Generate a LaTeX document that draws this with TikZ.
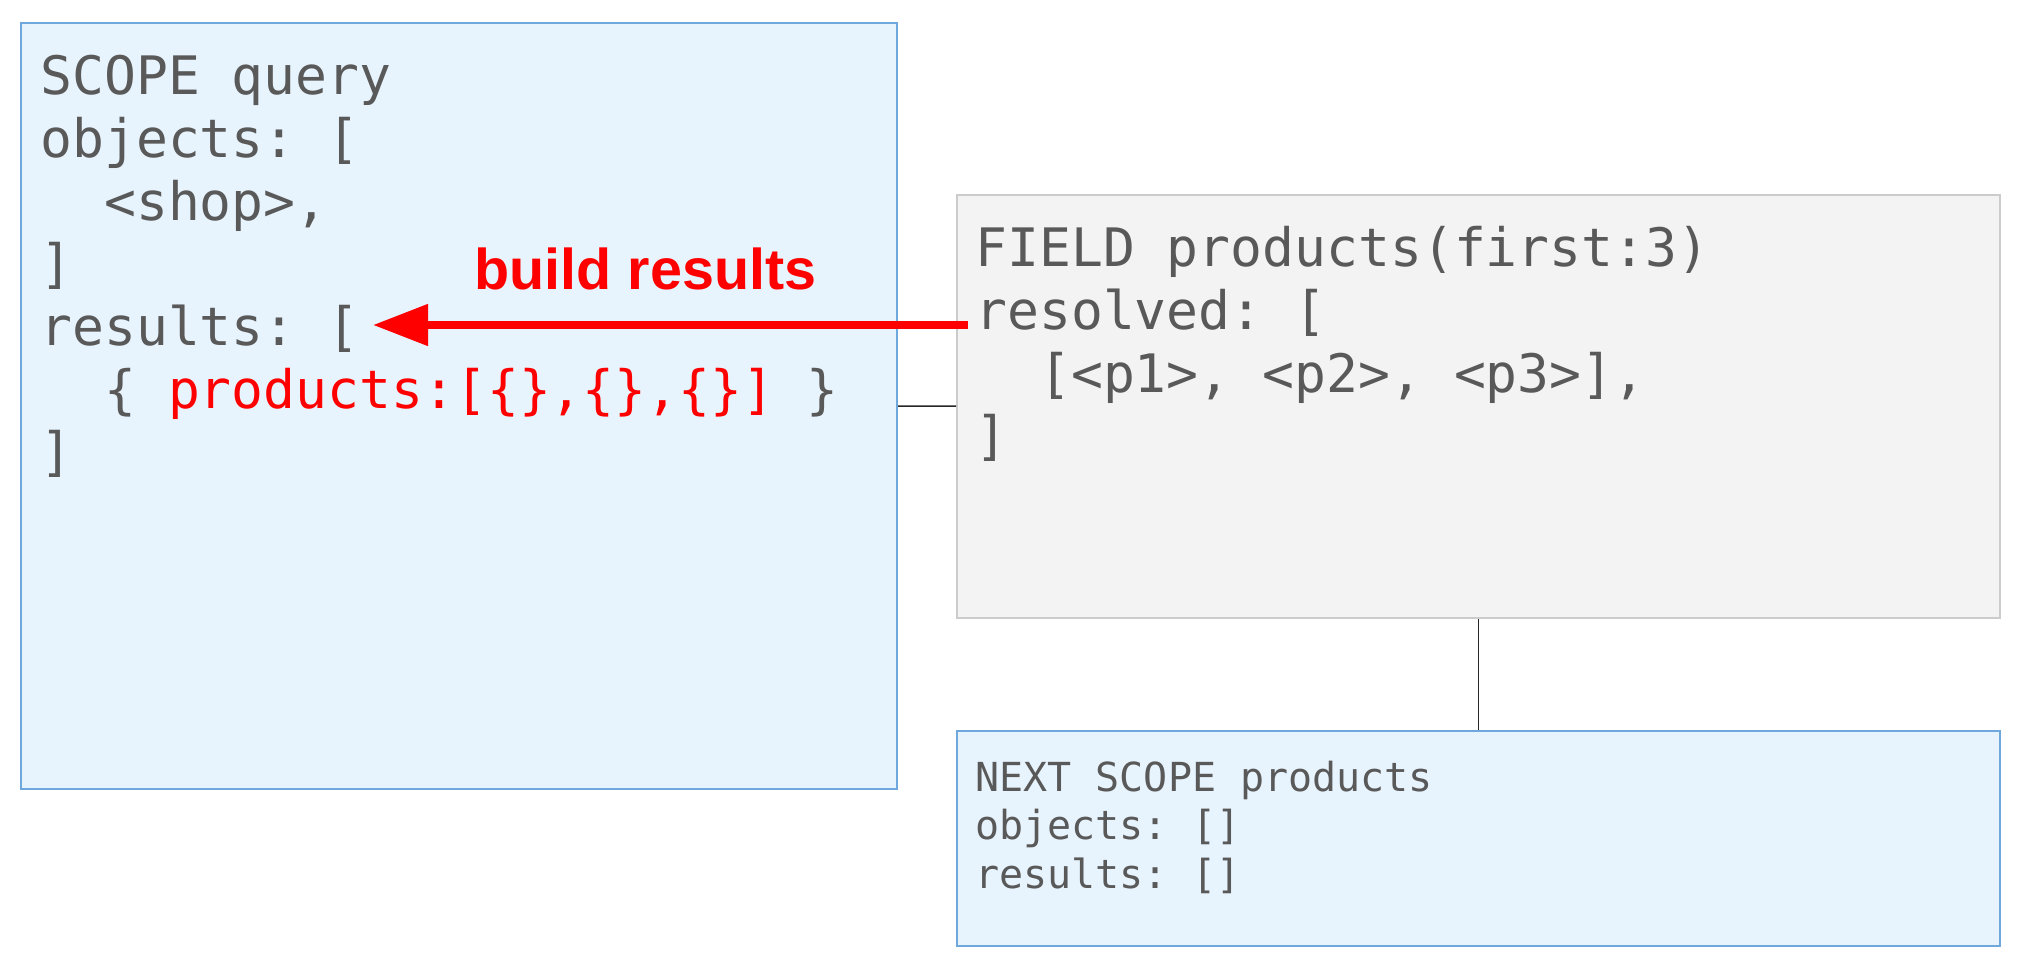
\documentclass[tikz,border=0pt]{standalone}
\usepackage{fontspec}
\setmonofont{DejaVu Sans Mono}
\setsansfont{Liberation Sans}
\usetikzlibrary{arrows.meta}
\definecolor{scopefill}{HTML}{E8F4FD}
\definecolor{scopeline}{HTML}{6FA8DC}
\definecolor{fieldfill}{HTML}{F3F3F3}
\definecolor{fieldline}{HTML}{CCCCCC}
\definecolor{codegray}{HTML}{595959}
\begin{document}
\begin{tikzpicture}[x=0.5pt,y=-0.5pt,
  scopebox/.style={draw=scopeline,fill=scopefill,line width=1pt,inner sep=0pt},
  fieldbox/.style={draw=fieldline,fill=fieldfill,line width=1pt,inner sep=0pt},
  code/.style={font=\ttfamily\fontsize{26.5pt}{31.35pt}\selectfont,text=codegray,align=left,anchor=base west,inner sep=0pt},
  smallcode/.style={code,font=\ttfamily\fontsize{20pt}{24.25pt}\selectfont},
  link/.style={line width=0.75pt,black!85}]
\useasboundingbox (0,0) rectangle (2024,972);
% the three boxes
\node[scopebox,minimum width=438pt,minimum height=383pt] (scope) at (459,406) {};
\node[fieldbox,minimum width=521.5pt,minimum height=211.5pt] (field) at (1478.5,406.5) {};
\node[scopebox,minimum width=521.5pt,minimum height=107.5pt] (next) at (1478.5,838.5) {};
\draw[link] (scope) -- (field);
\draw[link] (field) -- (next);
% code text (placed at the baseline of the last line)
\node[code] (scopetxt) at (40,471) {SCOPE query\\objects: [\\\phantom{xx}<shop>,\\]\\results: [\\
  \phantom{xx}\{ \textcolor{red}{products:[\{\},\{\},\{\}]} \}\\]};
\node[code] (fieldtxt) at (975,455) {FIELD products(first:3)\\resolved: [\\
  \phantom{xx}[<p1>, <p2>, <p3>],\\]};
\node[smallcode] (nexttxt) at (975,888) {NEXT SCOPE products\\objects: []\\results: []};
% build results
\coordinate (resolvedpt) at (968,325);
\coordinate (resultspt) at (373,325);
\draw[red,line width=4pt,-{Triangle[length=27.5pt,width=20pt]}] (resolvedpt) -- (resultspt);
\node[font=\sffamily\bfseries\fontsize{28.75pt}{34pt}\selectfont,text=red,anchor=base west,inner sep=0pt] (buildlbl) at (474,290) {build results};
\end{tikzpicture}
\end{document}
